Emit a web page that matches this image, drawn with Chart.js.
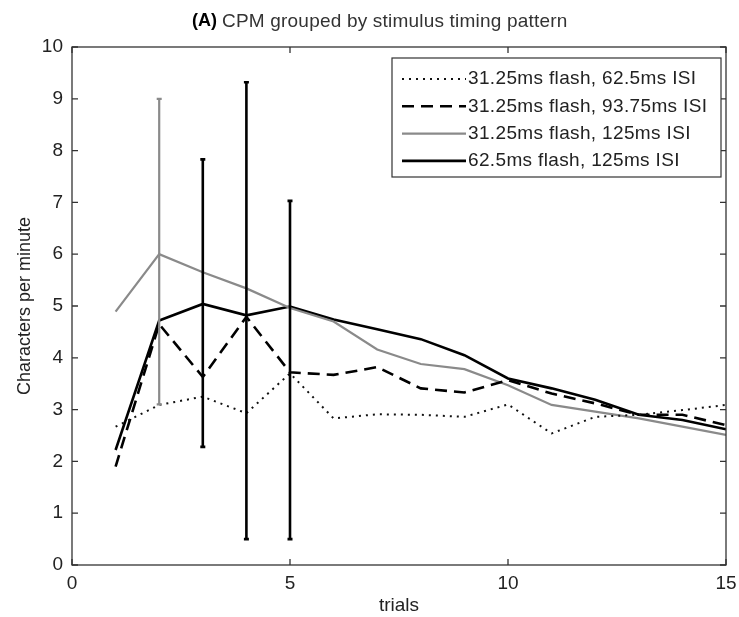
<!DOCTYPE html>
<html>
<head>
<meta charset="utf-8">
<script src="https://cdn.jsdelivr.net/npm/chart.js@4"></script>
<style>
  html, body { margin: 0; padding: 0; background: #fff; }
  #wrap { width: 739px; height: 617px; }
</style>
</head>
<body>
<div id="wrap"><canvas id="cpmChart"></canvas></div>
<script>
// values
const trials = [1, 2, 3, 4, 5, 6, 7, 8, 9, 10, 11, 12, 13, 14, 15];
const flash31isi62 = [2.67, 3.09, 3.25, 2.93, 3.70, 2.83, 2.91, 2.90, 2.86, 3.10, 2.54, 2.86, 2.90, 2.99, 3.09];
const flash31isi94 = [1.90, 4.65, 3.63, 4.79, 3.72, 3.67, 3.82, 3.41, 3.33, 3.57, 3.31, 3.12, 2.90, 2.90, 2.70];
const flash31isi125 = [4.89, 6.00, 5.65, 5.34, 4.96, 4.70, 4.16, 3.88, 3.78, 3.47, 3.09, 2.96, 2.83, 2.67, 2.51];
const flash62isi125 = [2.22, 4.72, 5.04, 4.82, 4.99, 4.74, 4.55, 4.36, 4.05, 3.60, 3.41, 3.19, 2.90, 2.80, 2.62];

// error bars: trial, low, high, and which series they belong to
const errTrial = [2, 3, 4, 5];
const errLow = [3.10, 2.28, 0.50, 0.50];
const errHigh = [9.00, 7.83, 9.32, 7.03];
const errSeries = [2, 3, 3, 3];

const xTicks = [0, 5, 10, 15];
const yTicks = [0, 1, 2, 3, 4, 5, 6, 7, 8, 9, 10];

const GRAY = "#8a8a8a";
const FONT = "'Liberation Sans', Arial, sans-serif";

const toPoints = (vals) => vals.map((v, i) => ({ x: trials[i], y: v }));

const errorBars = {
  id: "errorBars",
  afterDatasetsDraw(chart) {
    const { ctx, scales } = chart;
    ctx.save();
    errTrial.forEach((t, i) => {
      const ds = chart.data.datasets[errSeries[i]];
      const x = scales.x.getPixelForValue(t);
      const y1 = scales.y.getPixelForValue(errLow[i]);
      const y2 = scales.y.getPixelForValue(errHigh[i]);
      ctx.strokeStyle = ds.borderColor;
      ctx.lineWidth = ds.borderWidth;
      ctx.setLineDash([]);
      ctx.beginPath();
      ctx.moveTo(x, y1);
      ctx.lineTo(x, y2);
      ctx.moveTo(x - 2.5, y1);
      ctx.lineTo(x + 2.5, y1);
      ctx.moveTo(x - 2.5, y2);
      ctx.lineTo(x + 2.5, y2);
      ctx.stroke();
    });
    ctx.restore();
  },
};

const frameAndTicks = {
  id: "frameAndTicks",
  afterDraw(chart) {
    const { ctx, chartArea: a, scales } = chart;
    ctx.save();
    ctx.strokeStyle = "#333";
    ctx.lineWidth = 1.3;
    ctx.setLineDash([]);
    ctx.strokeRect(a.left, a.top, a.right - a.left, a.bottom - a.top);
    ctx.beginPath();
    xTicks.forEach((t) => {
      const x = scales.x.getPixelForValue(t);
      ctx.moveTo(x, a.bottom); ctx.lineTo(x, a.bottom - 6);
      ctx.moveTo(x, a.top); ctx.lineTo(x, a.top + 6);
    });
    yTicks.forEach((t) => {
      const y = scales.y.getPixelForValue(t);
      ctx.moveTo(a.left, y); ctx.lineTo(a.left + 6, y);
      ctx.moveTo(a.right, y); ctx.lineTo(a.right - 6, y);
    });
    ctx.stroke();

    // legend box, inside the top right corner
    const boxW = 329, boxH = 119;
    const bx = a.right - 5 - boxW, by = a.top + 11;
    ctx.fillStyle = "#fff";
    ctx.fillRect(bx, by, boxW, boxH);
    ctx.strokeStyle = "#333";
    ctx.lineWidth = 1.2;
    ctx.strokeRect(bx, by, boxW, boxH);
    ctx.font = "19px " + FONT;
    ctx.letterSpacing = "0.35px";
    ctx.textBaseline = "middle";
    ctx.textAlign = "left";
    chart.data.datasets.forEach((ds, i) => {
      const y = by + 21 + i * 27.3;
      ctx.strokeStyle = ds.borderColor;
      ctx.lineWidth = ds.borderWidth;
      ctx.setLineDash(ds.borderDash || []);
      ctx.beginPath();
      ctx.moveTo(bx + 10, y);
      ctx.lineTo(bx + 74, y);
      ctx.stroke();
      ctx.fillStyle = "#222";
      ctx.fillText(ds.label, bx + 76, y);
    });

    // title
    ctx.setLineDash([]);
    ctx.textBaseline = "middle";
    ctx.fillStyle = "#000";
    ctx.font = "bold 18px " + FONT;
    ctx.letterSpacing = "0px";
    ctx.textAlign = "right";
    ctx.fillText("(A)", 217, 21);
    ctx.textAlign = "left";
    ctx.fillStyle = "#333";
    ctx.font = "19px " + FONT;
    ctx.letterSpacing = "0.2px";
    ctx.fillText("CPM grouped by stimulus timing pattern", 222, 22);
    ctx.restore();
  },
};

new Chart(document.getElementById("cpmChart"), {
  type: "line",
  data: {
    datasets: [
      {
        label: "31.25ms flash, 62.5ms ISI",
        data: toPoints(flash31isi62),
        borderColor: "#111",
        borderWidth: 2,
        borderDash: [2, 5],
      },
      {
        label: "31.25ms flash, 93.75ms ISI",
        data: toPoints(flash31isi94),
        borderColor: "#000",
        borderWidth: 2.6,
        borderDash: [12, 7],
      },
      {
        label: "31.25ms flash, 125ms ISI",
        data: toPoints(flash31isi125),
        borderColor: GRAY,
        borderWidth: 2.2,
      },
      {
        label: "62.5ms flash, 125ms ISI",
        data: toPoints(flash62isi125),
        borderColor: "#000",
        borderWidth: 2.6,
      },
    ],
  },
  options: {
    responsive: true,
    maintainAspectRatio: false,
    animation: false,
    elements: {
      point: { radius: 0, hoverRadius: 0 },
      line: { tension: 0, fill: false, borderJoinStyle: "miter" },
    },
    layout: { padding: { top: 47, right: 13, left: 0, bottom: 0 } },
    plugins: {
      legend: { display: false },
      title: { display: false },
      tooltip: { enabled: false },
    },
    scales: {
      x: {
        type: "linear",
        min: 0,
        max: 15,
        afterFit: (scale) => {
          scale.height = 52;
          scale.paddingLeft = 0;
          scale.paddingRight = 0;
        },
        afterBuildTicks: (scale) => { scale.ticks = xTicks.map((v) => ({ value: v })); },
        grid: { display: false, drawTicks: false },
        border: { display: false },
        ticks: { font: { family: FONT, size: 19 }, color: "#222", padding: 7, maxRotation: 0 },
        title: {
          display: true,
          text: "trials",
          font: { family: FONT, size: 19 },
          color: "#222",
          padding: { top: 0, bottom: 0 },
        },
      },
      y: {
        min: 0,
        max: 10,
        afterFit: (scale) => {
          scale.width = 72;
          scale.paddingTop = 0;
          scale.paddingBottom = 0;
        },
        afterBuildTicks: (scale) => { scale.ticks = yTicks.map((v) => ({ value: v })); },
        grid: { display: false, drawTicks: false },
        border: { display: false },
        ticks: { font: { family: FONT, size: 19 }, color: "#222", padding: 9 },
        title: {
          display: true,
          text: "Characters per minute",
          font: { family: FONT, size: 18 },
          color: "#222",
          padding: { top: 14, bottom: 0 },
        },
      },
    },
  },
  plugins: [errorBars, frameAndTicks],
});
</script>
</body>
</html>
